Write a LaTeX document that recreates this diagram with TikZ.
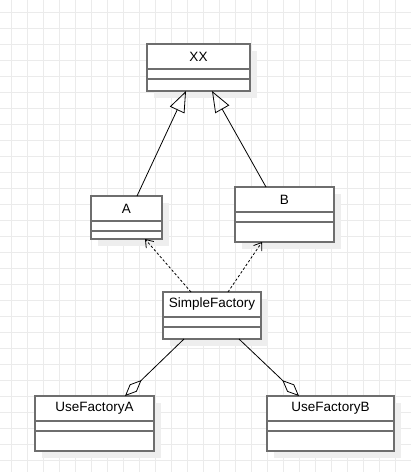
\documentclass[tikz,border=0pt]{standalone}
\usepackage{fontspec}
\setmainfont{Liberation Sans}
\usetikzlibrary{arrows.meta}

\definecolor{gridgray}{HTML}{EBEBEB}
\definecolor{boxgray}{HTML}{6E6E6E}
\definecolor{shadowgray}{HTML}{EEEEEE}

\tikzset{
  cls/.style={draw=boxgray, line width=1.6pt, fill=white, inner sep=0pt, outer sep=0pt},
  clsshadow/.style={fill=shadowgray, inner sep=0pt, outer sep=0pt},
  clsline/.style={draw=boxgray, line width=1.6pt},
  clstitle/.style={inner sep=0pt, text=black, font=\fontsize{13.5}{15}\selectfont},
  inherit/.style={line width=0.8pt, -{Triangle[open, length=21pt, width=16pt]}},
  depend/.style={line width=0.8pt, dash pattern=on 2.5pt off 2pt, -{Straight Barb[length=7pt, width=10pt]}},
  aggreg/.style={line width=0.8pt, -{Diamond[open, length=23pt, width=10pt]}}
}

% name, center, width, height, title
\newcommand{\umlclass}[5]{%
  \node[clsshadow, minimum width=#3, minimum height=#4] at ([xshift=7pt, yshift=-7pt]#2) {};
  \node[cls, minimum width=#3, minimum height=#4] (#1) at (#2) {};
  \node[clstitle] (#1-title) at ([yshift=-12.5pt]#1.north) {#5};
  \draw[clsline] ([yshift=-25pt]#1.north west) -- ([yshift=-25pt]#1.north east);
  \draw[clsline] ([yshift=-35pt]#1.north west) -- ([yshift=-35pt]#1.north east);
}

\begin{document}
\begin{tikzpicture}[x=1pt, y=-1pt]
\useasboundingbox (0,0) rectangle (411,472);

% background grid
\foreach \gx in {11.5,27.5,...,411} \draw[gridgray, line width=0.8pt] (\gx,0) -- (\gx,472);
\foreach \gy in {12.5,28.5,...,472} \draw[gridgray, line width=0.8pt] (0,\gy) -- (411,\gy);

\umlclass{xx}{198.5,67.5}{103}{47}{XX}
\umlclass{a}{126.5,217.5}{71}{43}{A}
\umlclass{b}{284.5,214.5}{99}{55}{B}
\umlclass{sf}{212,315.5}{98}{47}{SimpleFactory}
\umlclass{ufa}{94.5,423.5}{119}{55}{UseFactoryA}
\umlclass{ufb}{330.5,423.5}{127}{55}{UseFactoryB}

\draw[inherit] ([xshift=10.5pt]a.north) -- ([xshift=-12.5pt]xx.south);
\draw[inherit] ([xshift=-18.5pt]b.north) -- ([xshift=13.5pt]xx.south);

\draw[depend] ([xshift=-21pt]sf.north) -- ([xshift=18.5pt]a.south);
\draw[depend] ([xshift=16pt]sf.north) -- ([xshift=-22.5pt]b.south);

\draw[aggreg] ([xshift=-28pt]sf.south) -- ([xshift=30.5pt]ufa.north);
\draw[aggreg] ([xshift=27pt]sf.south) -- ([xshift=-31.5pt]ufb.north);
\end{tikzpicture}
\end{document}
